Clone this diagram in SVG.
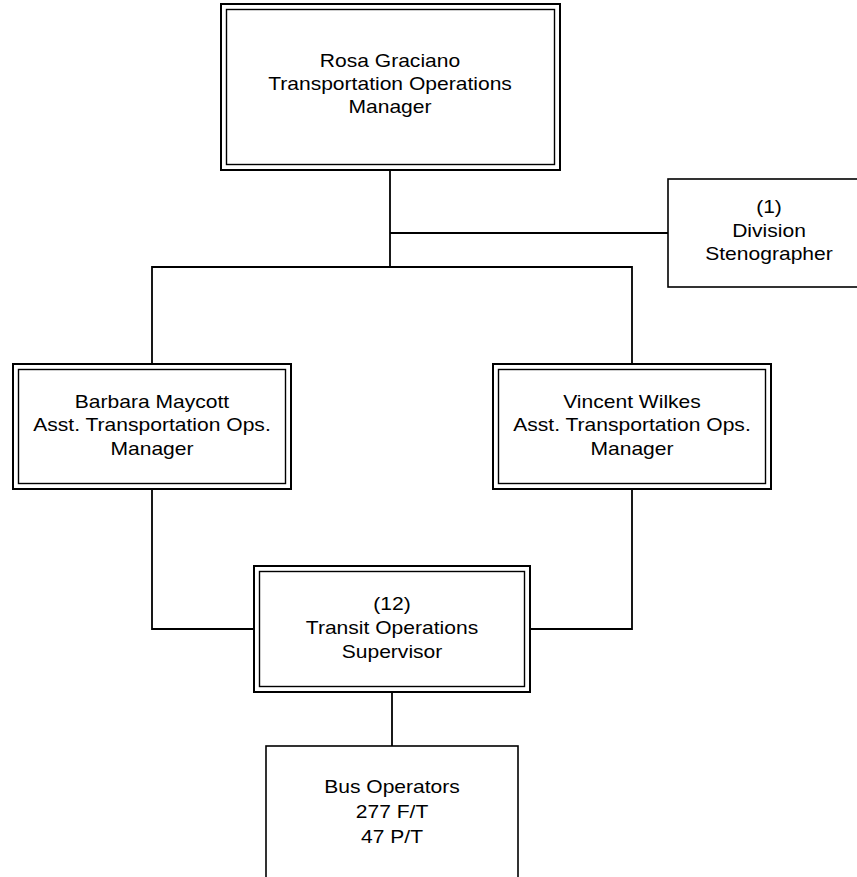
<svg xmlns="http://www.w3.org/2000/svg" width="857" height="877" viewBox="0 0 857 877">
<style>
.bg{fill:#ffffff}
.outer{fill:#ffffff;stroke:#000;stroke-width:2}
.inner{fill:none;stroke:#000;stroke-width:1.4}
.single{fill:#ffffff;stroke:#000;stroke-width:1.6}
.conn{fill:none;stroke:#000;stroke-width:1.8}
.lbl{font-family:"Liberation Sans",Arial,sans-serif;font-size:18px;fill:#000;text-anchor:middle}
</style>
<rect class="bg" x="0" y="0" width="857" height="877"/>
<g id="connectors">
<path class="conn" d="M390 170 V267"/>
<path class="conn" d="M390 233 H668"/>
<path class="conn" d="M152 364 V267 H632 V364"/>
<path class="conn" d="M152 489 V629 H254"/>
<path class="conn" d="M632 489 V629 H530"/>
<path class="conn" d="M392 692 V746"/>
</g>
<g id="rosa">
<rect class="outer" x="221" y="4" width="339" height="166"/>
<rect class="inner" x="226.5" y="9.5" width="328" height="155"/>
<text class="lbl" transform="translate(390 0) scale(1.17 1)"><tspan x="0" y="67">Rosa Graciano</tspan><tspan x="0" y="90">Transportation Operations</tspan><tspan x="0" y="113">Manager</tspan></text>
</g>
<g id="steno">
<rect class="single" x="668" y="179" width="210" height="108"/>
<text class="lbl" transform="translate(769 0) scale(1.17 1)"><tspan x="0" y="213">(1)</tspan><tspan x="0" y="237">Division</tspan><tspan x="0" y="260">Stenographer</tspan></text>
</g>
<g id="barbara">
<rect class="outer" x="13" y="364" width="278" height="125"/>
<rect class="inner" x="18.5" y="369.5" width="267" height="114"/>
<text class="lbl" transform="translate(152 0) scale(1.17 1)"><tspan x="0" y="408">Barbara Maycott</tspan><tspan x="0" y="431">Asst. Transportation Ops.</tspan><tspan x="0" y="455">Manager</tspan></text>
</g>
<g id="vincent">
<rect class="outer" x="493" y="364" width="278" height="125"/>
<rect class="inner" x="498.5" y="369.5" width="267" height="114"/>
<text class="lbl" transform="translate(632 0) scale(1.17 1)"><tspan x="0" y="408">Vincent Wilkes</tspan><tspan x="0" y="431">Asst. Transportation Ops.</tspan><tspan x="0" y="455">Manager</tspan></text>
</g>
<g id="supervisor">
<rect class="outer" x="254" y="566" width="276" height="126"/>
<rect class="inner" x="259.5" y="571.5" width="265" height="115"/>
<text class="lbl" transform="translate(392 0) scale(1.17 1)"><tspan x="0" y="610">(12)</tspan><tspan x="0" y="634">Transit Operations</tspan><tspan x="0" y="658">Supervisor</tspan></text>
</g>
<g id="bus">
<rect class="single" x="266" y="746" width="252" height="150"/>
<text class="lbl" transform="translate(392 0) scale(1.17 1)"><tspan x="0" y="793">Bus Operators</tspan><tspan x="0" y="818">277 F/T</tspan><tspan x="0" y="843">47 P/T</tspan></text>
</g>
</svg>
